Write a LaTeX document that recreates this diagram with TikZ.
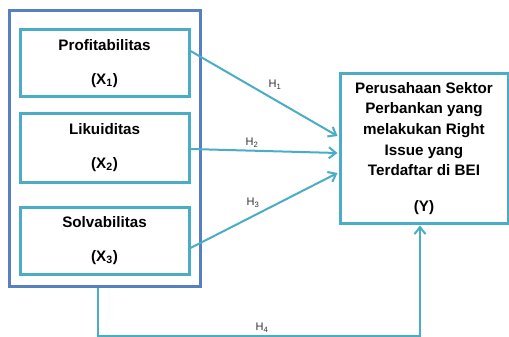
\documentclass[tikz,border=0pt]{standalone}
\usepackage{fontspec}
\setmainfont{Liberation Sans}
\usetikzlibrary{arrows.meta,calc}
\definecolor{cy}{HTML}{4BACC6}
\definecolor{bl}{HTML}{5680C0}
\definecolor{lab}{HTML}{333333}
\begin{document}
\begin{tikzpicture}[x=1pt,y=-1pt,
  varbox/.style={draw=cy,line width=3pt,rectangle,inner sep=0pt,minimum width=169pt,minimum height=67pt,align=center,font=\bfseries\fontsize{15.2}{34}\selectfont},
  conn/.style={draw=cy,line width=2pt,-{Straight Barb[length=7pt,width=11pt,line width=2pt]}},
  hlab/.style={text=lab,font=\fontsize{11}{12}\selectfont,inner sep=0pt}]
\useasboundingbox (0,0) rectangle (509,337);
\node[draw=bl,line width=3pt,rectangle,inner sep=0pt,minimum width=191pt,minimum height=275pt] (outer) at (104.5,148.5) {};
\node[varbox] (b1) at (104.5,63.5) {Profitabilitas\\(X\textsubscript{1})};
\node[varbox,minimum height=69pt] (b2) at (104.5,147.5) {Likuiditas\\(X\textsubscript{2})};
\node[varbox] (b3) at (104.5,240.5) {Solvabilitas\\(X\textsubscript{3})};
\node[draw=cy,line width=3pt,rectangle,inner sep=0pt,minimum width=168pt,minimum height=149pt,align=center,font=\bfseries\fontsize{15.2}{20.7}\selectfont] (Y) at (424,148.5) {Perusahaan Sektor\\Perbankan yang\\melakukan Right\\Issue yang\\Terdaftar di BEI\\[15.3pt](Y)};
\draw[conn] ([yshift=12.5pt]b1.east) -- ([yshift=12.5pt,xshift=-1pt]Y.west);
\draw[conn] ([yshift=-1.5pt]b2.east) -- ([yshift=-4.5pt,xshift=-1pt]Y.west);
\draw[conn] ([yshift=-7.5pt]b3.east) -- ([yshift=-24.5pt,xshift=-1pt]Y.west);
\coordinate (c1) at (98,335.5);
\coordinate (c2) at (420,335.5);
\draw[conn] ([xshift=-6.5pt]outer.south) -- (c1) -- (c2) -- ([xshift=-4pt,yshift=-1pt]Y.south);
\node[hlab] (h1) at (275,85) {H\textsubscript{1}};
\node[hlab] (h2) at (252,143) {H\textsubscript{2}};
\node[hlab] (h3) at (253,203) {H\textsubscript{3}};
\node[hlab] (h4) at (262,328) {H\textsubscript{4}};
\end{tikzpicture}
\end{document}
